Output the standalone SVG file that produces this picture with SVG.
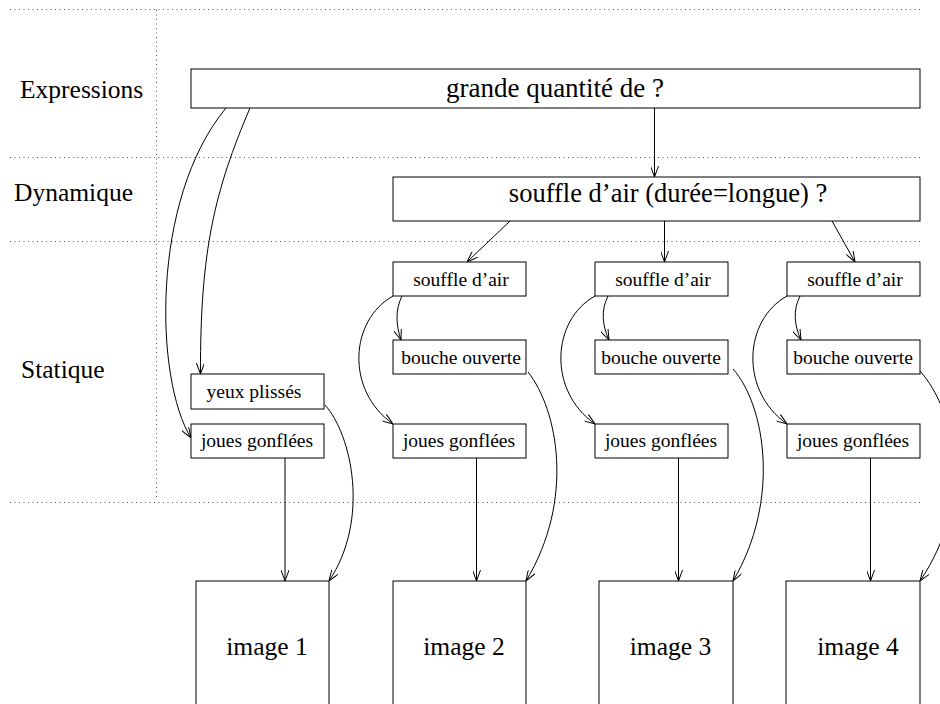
<svg xmlns="http://www.w3.org/2000/svg" width="940" height="704" viewBox="0 0 940 704">
<style>
.bg{fill:#ffffff}
.box{fill:#ffffff;stroke:#000;stroke-width:1}
.grid{fill:none;stroke:#555;stroke-width:1;stroke-dasharray:1 3.5}
.edge{fill:none;stroke:#000;stroke-width:1}
.lbl{font-family:"Liberation Serif","Times New Roman",serif;font-size:25.5px;fill:#000}
.big{font-family:"Liberation Serif","Times New Roman",serif;font-size:27px;fill:#000;text-anchor:middle}
.big2{font-family:"Liberation Serif","Times New Roman",serif;font-size:26.5px;fill:#000;text-anchor:middle}
.sm{font-family:"Liberation Serif","Times New Roman",serif;font-size:19.5px;fill:#000;text-anchor:middle}
.img{font-family:"Liberation Serif","Times New Roman",serif;font-size:25.5px;fill:#000;text-anchor:middle}
</style>
<defs>
<marker id="arr" viewBox="0 0 11 8" refX="11" refY="4" markerWidth="11" markerHeight="8" markerUnits="userSpaceOnUse" orient="auto">
<path d="M0,0 L11,4 L0,8" fill="none" stroke="#000" stroke-width="1"/>
</marker>
</defs>
<rect class="bg" x="0" y="0" width="940" height="704"/>
<g id="grid">
<line class="grid" x1="10" y1="9.5" x2="920" y2="9.5"/>
<line class="grid" x1="10" y1="157.5" x2="920" y2="157.5"/>
<line class="grid" x1="10" y1="241.5" x2="920" y2="241.5"/>
<line class="grid" x1="10" y1="502.5" x2="920" y2="502.5"/>
<line class="grid" x1="156.5" y1="10" x2="156.5" y2="500"/>
</g>
<g id="labels">
<text class="lbl" x="20" y="98">Expressions</text>
<text class="lbl" x="14" y="201">Dynamique</text>
<text class="lbl" x="21" y="378">Statique</text>
</g>
<g id="connectors">
<line class="edge" x1="654.5" y1="108" x2="654.5" y2="177" marker-end="url(#arr)"/>
<line class="edge" x1="510" y1="221" x2="467" y2="262" marker-end="url(#arr)"/>
<line class="edge" x1="664.5" y1="221" x2="664.5" y2="262" marker-end="url(#arr)"/>
<line class="edge" x1="832" y1="221" x2="855" y2="262" marker-end="url(#arr)"/>
<path class="edge" d="M226,108 C150,200 155,380 191,438" marker-end="url(#arr)"/>
<path class="edge" d="M250,108 C215,190 200,250 200.5,374" marker-end="url(#arr)"/>
<path class="edge" d="M402,296 C395,310 396,325 401,340" marker-end="url(#arr)"/>
<path class="edge" d="M608,296 C601,310 602,325 609,340" marker-end="url(#arr)"/>
<path class="edge" d="M800,296 C793,310 794,325 801,340" marker-end="url(#arr)"/>
<path class="edge" d="M393,296 C350,320 345,390 393,424" marker-end="url(#arr)"/>
<path class="edge" d="M595,296 C552,320 547,390 595,424" marker-end="url(#arr)"/>
<path class="edge" d="M787,296 C744,320 739,390 787,424" marker-end="url(#arr)"/>
<line class="edge" x1="285" y1="458" x2="285" y2="581" marker-end="url(#arr)"/>
<line class="edge" x1="476.5" y1="458" x2="476.5" y2="581" marker-end="url(#arr)"/>
<line class="edge" x1="678.5" y1="458" x2="678.5" y2="581" marker-end="url(#arr)"/>
<line class="edge" x1="870.5" y1="458" x2="870.5" y2="581" marker-end="url(#arr)"/>
<path class="edge" d="M325,405 C352,435 370,520 329,581" marker-end="url(#arr)"/>
<path class="edge" d="M528,372 C558,410 575,500 526,581" marker-end="url(#arr)"/>
<path class="edge" d="M733,369 C765,405 781,500 733,581" marker-end="url(#arr)"/>
<path class="edge" d="M920,371 C955,410 975,500 920,581" marker-end="url(#arr)"/>
</g>
<g id="n-expr">
<rect class="box" x="191" y="69" width="729" height="39"/>
<text class="big" x="555" y="97">grande quantité de ?</text>
</g>
<g id="n-dyn">
<rect class="box" x="393" y="177" width="527" height="44"/>
<text class="big2" x="668" y="202">souffle d’air (durée=longue) ?</text>
</g>
<g id="n-yeux1">
<rect class="box" x="191" y="374" width="133" height="35"/>
<text class="sm" x="254" y="398">yeux plissés</text>
</g>
<g id="n-joues1">
<rect class="box" x="191" y="424" width="133" height="34"/>
<text class="sm" x="257" y="447">joues gonflées</text>
</g>
<g id="n-souffle2">
<rect class="box" x="393" y="262" width="133" height="34"/>
<text class="sm" x="461" y="286">souffle d’air</text>
</g>
<g id="n-bouche2">
<rect class="box" x="393" y="340" width="133" height="34"/>
<text class="sm" x="461" y="364">bouche ouverte</text>
</g>
<g id="n-joues2">
<rect class="box" x="393" y="424" width="133" height="34"/>
<text class="sm" x="459" y="447">joues gonflées</text>
</g>
<g id="n-souffle3">
<rect class="box" x="595" y="262" width="133" height="34"/>
<text class="sm" x="663" y="286">souffle d’air</text>
</g>
<g id="n-bouche3">
<rect class="box" x="595" y="340" width="133" height="34"/>
<text class="sm" x="661" y="364">bouche ouverte</text>
</g>
<g id="n-joues3">
<rect class="box" x="595" y="424" width="133" height="34"/>
<text class="sm" x="661" y="447">joues gonflées</text>
</g>
<g id="n-souffle4">
<rect class="box" x="787" y="262" width="133" height="34"/>
<text class="sm" x="855" y="286">souffle d’air</text>
</g>
<g id="n-bouche4">
<rect class="box" x="787" y="340" width="133" height="34"/>
<text class="sm" x="853" y="364">bouche ouverte</text>
</g>
<g id="n-joues4">
<rect class="box" x="787" y="424" width="133" height="34"/>
<text class="sm" x="853" y="447">joues gonflées</text>
</g>
<g id="n-img1">
<rect class="box" x="196" y="581" width="133" height="140"/>
<text class="img" x="267" y="655">image 1</text>
</g>
<g id="n-img2">
<rect class="box" x="393" y="581" width="133" height="140"/>
<text class="img" x="464" y="655">image 2</text>
</g>
<g id="n-img3">
<rect class="box" x="599" y="581" width="134" height="140"/>
<text class="img" x="670.5" y="655">image 3</text>
</g>
<g id="n-img4">
<rect class="box" x="786" y="581" width="134" height="140"/>
<text class="img" x="858" y="655">image 4</text>
</g>
</svg>
